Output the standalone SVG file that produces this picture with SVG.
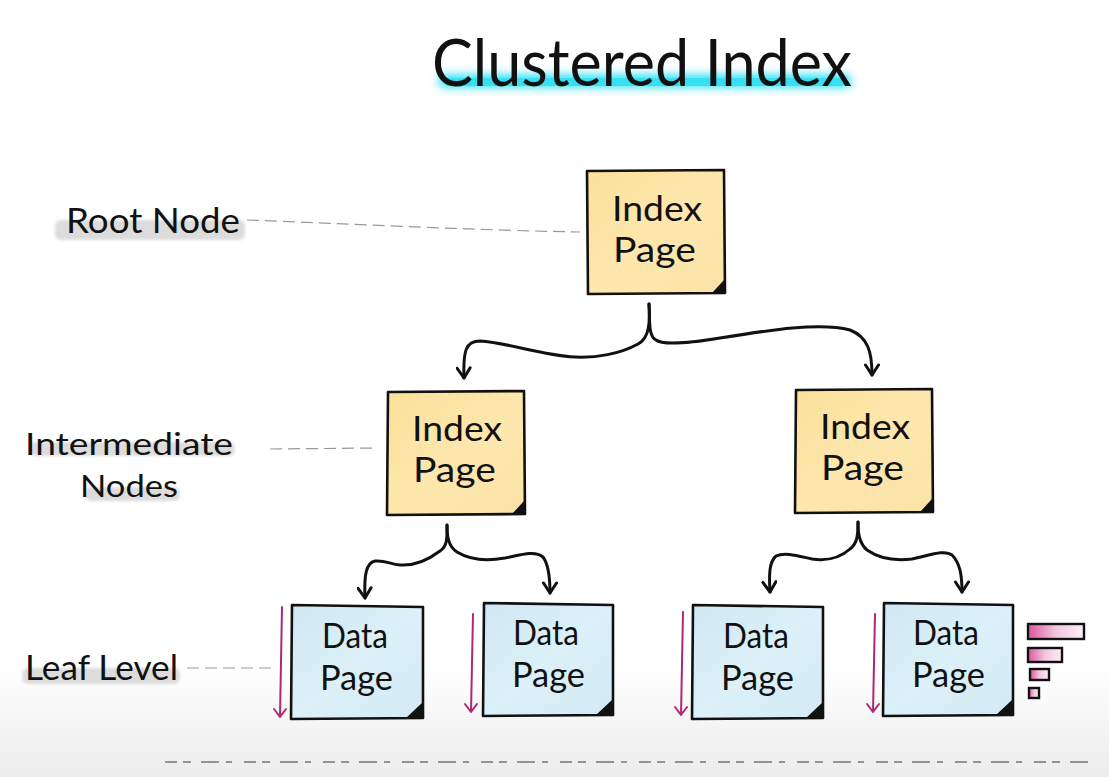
<svg xmlns="http://www.w3.org/2000/svg" width="1109" height="777" viewBox="0 0 1109 777">
<defs>
<linearGradient id="bg" x1="0" y1="0" x2="0" y2="1">
<stop offset="0" stop-color="#ffffff"/>
<stop offset="0.86" stop-color="#ffffff"/>
<stop offset="1" stop-color="#ececec"/>
</linearGradient>
<linearGradient id="yel" x1="0" y1="0" x2="1" y2="1">
<stop offset="0" stop-color="#fbe09a"/>
<stop offset="0.5" stop-color="#fde7ad"/>
<stop offset="1" stop-color="#fbe3a6"/>
</linearGradient>
<linearGradient id="blu" x1="0" y1="0" x2="1" y2="1">
<stop offset="0" stop-color="#cfe8f3"/>
<stop offset="0.5" stop-color="#dcf0f8"/>
<stop offset="1" stop-color="#d2eaf5"/>
</linearGradient>
<linearGradient id="pink" x1="0" y1="0" x2="1" y2="0">
<stop offset="0" stop-color="#d9589a"/>
<stop offset="0.5" stop-color="#f3c6de"/>
<stop offset="1" stop-color="#fbeef5"/>
</linearGradient>
<filter id="blur" x="-20%" y="-100%" width="140%" height="300%"><feGaussianBlur stdDeviation="4"/></filter>
<filter id="blur2" x="-10%" y="-50%" width="120%" height="200%"><feGaussianBlur stdDeviation="1.5"/></filter>
<marker id="mArrow" viewBox="0 0 16 16" refX="14" refY="8" markerWidth="16" markerHeight="16" markerUnits="userSpaceOnUse" orient="auto">
<path d="M4,1.5 L14,8 L4,14.5" fill="none" stroke="#111" stroke-width="3" stroke-linecap="round" stroke-linejoin="round"/>
</marker>
</defs>
<style>
.hand{font-family:"Lato","Noto Sans",sans-serif;fill:#111;}
.box{stroke:#111;stroke-width:2.6;stroke-linejoin:round;}
.conn{fill:none;stroke:#111;stroke-width:3;stroke-linecap:round;stroke-linejoin:round;}
.dash{fill:none;stroke:#999;stroke-width:1.2;stroke-dasharray:12 6;}
.mag{fill:none;stroke:#b0286f;stroke-width:2;stroke-linecap:round;stroke-linejoin:round;}
.fold{fill:#111;}
.lbl{font-size:34px;}
.pg{font-size:34px;}
.hl{fill:#dcdcdc;}
.bar{fill:url(#pink);stroke:#111;stroke-width:2.4;}
</style>
<rect x="0" y="0" width="1109" height="777" fill="url(#bg)"/>

<g id="title">
<rect x="438" y="74" width="414" height="14" rx="7" fill="#3fe3f5" filter="url(#blur)"/>
<rect x="445" y="78" width="400" height="8" rx="4" fill="#35e0f3"/>
<text class="hand" x="432" y="86" font-size="66" textLength="420" lengthAdjust="spacingAndGlyphs">Clustered Index</text>
</g>

<g id="label-root">
<rect class="hl" x="55" y="220" width="190" height="20" rx="6" filter="url(#blur2)"/>
<text class="hand lbl" x="66" y="233" textLength="174" lengthAdjust="spacingAndGlyphs">Root Node</text>
</g>
<g id="label-intermediate">
<rect class="hl" x="30" y="442" width="205" height="14" rx="6" filter="url(#blur2)"/>
<rect class="hl" x="85" y="487" width="95" height="14" rx="6" filter="url(#blur2)"/>
<text class="hand" font-size="31" x="25" y="455" textLength="208" lengthAdjust="spacingAndGlyphs">Intermediate</text>
<text class="hand" font-size="31" x="80" y="497" textLength="98" lengthAdjust="spacingAndGlyphs">Nodes</text>
</g>
<g id="label-leaf">
<rect class="hl" x="22" y="668" width="158" height="16" rx="6" filter="url(#blur2)"/>
<text class="hand lbl" x="25" y="680" textLength="153" lengthAdjust="spacingAndGlyphs">Leaf Level</text>
</g>

<g id="connectors">
<path class="dash" d="M247,220 C350,224 470,230 580,232"/>
<path class="dash" d="M270,449 L375,448"/>
<path class="dash" d="M187,668 L276,668"/>
<path class="conn" d="M649,304 C650,320 648,336 656,340 C662,345 690,343 720,338 C770,330 820,322 850,330 C868,337 872,352 872,375" marker-end="url(#mArrow)"/>
<path class="conn" d="M649,304 C650,320 650,338 638,344 C620,354 596,358 575,357 C540,355 510,343 480,341 C466,341 463,350 464,378" marker-end="url(#mArrow)"/>
<path class="conn" d="M447,525 C447,536 448,546 440,551 C428,560 414,566 400,565 C390,564 385,560 375,561 C366,563 364,575 365,598" marker-end="url(#mArrow)"/>
<path class="conn" d="M447,525 C447,536 448,546 457,552 C470,560 488,561 505,558 C520,555 535,550 543,557 C549,565 550,578 550,593" marker-end="url(#mArrow)"/>
<path class="conn" d="M858,522 C858,533 858,543 850,549 C840,558 826,561 812,559 C798,556 785,552 776,556 C769,562 769,575 770,592" marker-end="url(#mArrow)"/>
<path class="conn" d="M858,522 C858,533 859,543 867,550 C880,559 896,561 912,559 C928,556 944,549 952,555 C960,563 962,575 962,592" marker-end="url(#mArrow)"/>
<path class="mag" d="M282,607 L280,717 M274,709 L280,717 L286,709"/>
<path class="mag" d="M473,614 L471,712 M465,704 L471,712 L477,704"/>
<path class="mag" d="M683,612 L681,715 M675,707 L681,715 L687,707"/>
<path class="mag" d="M875,614 L873,712 M867,704 L873,712 L879,704"/>
<path d="M165,762 L1090,762" fill="none" stroke="#555" stroke-width="1.6" stroke-dasharray="12 6 8 10 18 7 6 12" opacity="0.8"/>
</g>

<g id="root-node">
<path class="box" fill="url(#yel)" d="M587,171 L724,170 L725,293 L588,294 Z"/>
<path class="fold" d="M712,293 L724,280 L725,292 Z"/>
<text class="hand pg" x="612" y="221" textLength="90" lengthAdjust="spacingAndGlyphs">Index</text>
<text class="hand pg" x="613" y="262" textLength="83" lengthAdjust="spacingAndGlyphs">Page</text>
</g>

<g id="intermediate-left">
<path class="box" fill="url(#yel)" d="M388,392 L524,391 L525,514 L387,515 Z"/>
<path class="fold" d="M512,514 L524,501 L525,513 Z"/>
<text class="hand pg" x="412" y="441" textLength="90" lengthAdjust="spacingAndGlyphs">Index</text>
<text class="hand pg" x="413" y="482" textLength="83" lengthAdjust="spacingAndGlyphs">Page</text>
</g>

<g id="intermediate-right">
<path class="box" fill="url(#yel)" d="M796,390 L932,389 L933,512 L795,513 Z"/>
<path class="fold" d="M920,512 L932,499 L933,511 Z"/>
<text class="hand pg" x="820" y="439" textLength="90" lengthAdjust="spacingAndGlyphs">Index</text>
<text class="hand pg" x="821" y="480" textLength="83" lengthAdjust="spacingAndGlyphs">Page</text>
</g>

<g id="data-page-1">
<path class="box" fill="url(#blu)" d="M292,605 L423,607 L423,718 L291,719 Z"/>
<path class="fold" d="M406,718 L423,702 L423,717 Z"/>
<text class="hand pg" x="322" y="648" textLength="66" lengthAdjust="spacingAndGlyphs">Data</text>
<text class="hand pg" x="320" y="690" textLength="73" lengthAdjust="spacingAndGlyphs">Page</text>
</g>

<g id="data-page-2">
<path class="box" fill="url(#blu)" d="M484,603 L613,605 L613,715 L483,716 Z"/>
<path class="fold" d="M596,715 L613,699 L613,714 Z"/>
<text class="hand pg" x="513" y="645" textLength="66" lengthAdjust="spacingAndGlyphs">Data</text>
<text class="hand pg" x="512" y="687" textLength="73" lengthAdjust="spacingAndGlyphs">Page</text>
</g>

<g id="data-page-3">
<path class="box" fill="url(#blu)" d="M693,605 L823,607 L823,718 L692,719 Z"/>
<path class="fold" d="M806,718 L823,702 L823,717 Z"/>
<text class="hand pg" x="723" y="648" textLength="66" lengthAdjust="spacingAndGlyphs">Data</text>
<text class="hand pg" x="721" y="690" textLength="73" lengthAdjust="spacingAndGlyphs">Page</text>
</g>

<g id="data-page-4">
<path class="box" fill="url(#blu)" d="M884,603 L1013,605 L1013,715 L883,716 Z"/>
<path class="fold" d="M996,715 L1013,699 L1013,714 Z"/>
<text class="hand pg" x="913" y="645" textLength="66" lengthAdjust="spacingAndGlyphs">Data</text>
<text class="hand pg" x="912" y="687" textLength="73" lengthAdjust="spacingAndGlyphs">Page</text>
</g>

<g id="size-bars">
<rect class="bar" x="1028" y="624" width="56" height="15"/>
<rect class="bar" x="1028" y="648" width="34" height="14"/>
<rect class="bar" x="1030" y="669" width="19" height="11"/>
<rect class="bar" x="1029" y="688" width="10" height="10"/>
</g>
</svg>
